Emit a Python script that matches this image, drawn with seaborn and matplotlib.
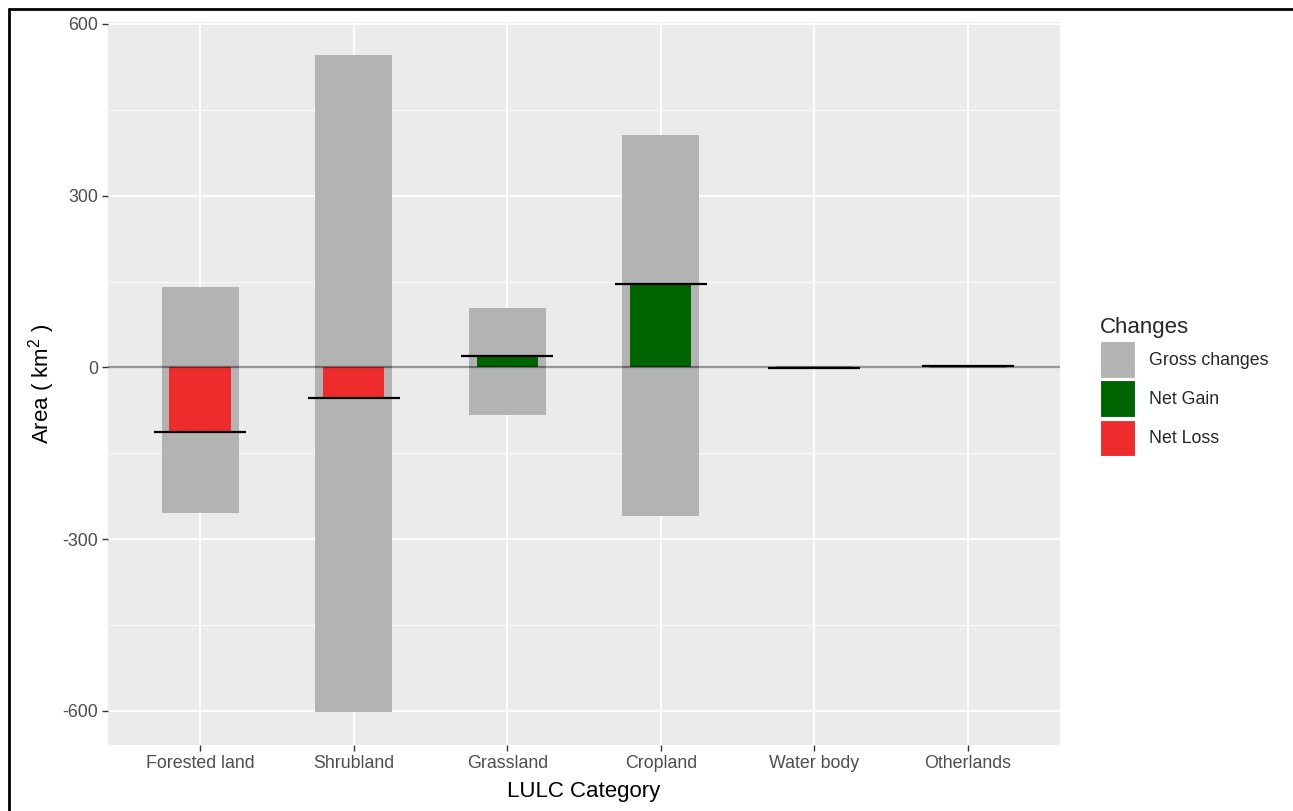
import matplotlib
matplotlib.use("Agg")
import matplotlib.pyplot as plt
import seaborn as sns
import pandas as pd
from matplotlib.patches import Patch
from matplotlib.lines import Line2D

categories = ["Forested land", "Shrubland", "Grassland", "Cropland", "Water body", "Otherlands"]
gross_gain = [140, 546, 103, 406, 2, 4]
gross_loss = [-255, -602, -83, -260, -2, -1]
net_change = [-113, -54, 20, 146, -1, 3]
y_ticks = [-600, -300, 0, 300, 600]
legend_labels = ["Gross changes", "Net Gain", "Net Loss"]
colors = {"Gross changes": "#B3B3B3", "Net Gain": "#006400", "Net Loss": "#EE2C2C"}

sns.set_theme(style="darkgrid")
plt.rcParams["font.family"] = ["Liberation Sans", "DejaVu Sans"]
plt.rcParams["mathtext.fontset"] = "custom"
plt.rcParams["mathtext.rm"] = "Liberation Sans"
plt.rcParams["mathtext.it"] = "Liberation Sans"

fig = plt.figure(figsize=(12.93, 8.11), dpi=100)
ax = fig.add_axes([108/1293, 1-745/811, (1060-108)/1293, (745-22)/811])
ax.set_facecolor("#EBEBEB")

df_gain = pd.DataFrame({"cat": categories, "val": gross_gain})
df_loss = pd.DataFrame({"cat": categories, "val": gross_loss})
df_net = pd.DataFrame({"cat": categories, "val": net_change,
                       "type": ["Net Gain" if v >= 0 else "Net Loss" for v in net_change]})

sns.barplot(data=df_gain, x="cat", y="val", color=colors["Gross changes"], saturation=1,
            width=0.5, ax=ax, errorbar=None, zorder=2)
sns.barplot(data=df_loss, x="cat", y="val", color=colors["Gross changes"], saturation=1,
            width=0.5, ax=ax, errorbar=None, zorder=2)
sns.barplot(data=df_net, x="cat", y="val", hue="type", palette=colors, saturation=1,
            width=0.4, dodge=False, ax=ax, errorbar=None, legend=False, zorder=3)

for b in ax.patches:
    b.set_edgecolor("none")
    b.set_linewidth(0)

xs = list(range(len(categories)))
ax.hlines(net_change, [x - 0.3 for x in xs], [x + 0.3 for x in xs], color="black",
          linewidth=1.6, zorder=4)
ax.axhline(0, color="black", alpha=0.4, linewidth=1.6, zorder=5)

ax.set_xlim(-0.6, 5.6)
ax.set_ylim(-659.4, 603.4)
ax.set_yticks(y_ticks)
ax.set_yticklabels([str(t) for t in y_ticks])
ax.set_yticks([-450, -150, 150, 450], minor=True)
ax.grid(which="major", color="white", linewidth=1.3)
ax.grid(which="minor", axis="y", color="white", linewidth=0.6)
ax.set_axisbelow(True)
for s in ax.spines.values():
    s.set_visible(False)

ax.tick_params(axis="both", which="major", length=4, width=1, color="#333333",
               labelcolor="#4D4D4D", labelsize=12.8, pad=3, bottom=True, left=True)
ax.tick_params(axis="both", which="minor", length=0)
ax.set_xlabel("LULC Category", fontsize=16, color="black", labelpad=7)
ax.set_ylabel("Area ( km$^{2}$ )", fontsize=16, color="black", labelpad=4)

handles = [Patch(facecolor=colors[l], edgecolor="white", linewidth=0.8) for l in legend_labels]
leg = fig.legend(handles, legend_labels, title="Changes", loc="upper left",
                 bbox_to_anchor=(1086/1293, 1-303/811), frameon=False,
                 fontsize=12.8, title_fontsize=16, handlelength=1.95, handleheight=2.8,
                 labelspacing=0.15, handletextpad=0.8, alignment="left", borderpad=0.3)

# figure border (top and left visible; right and bottom are cut off in the reference)
fig.add_artist(Line2D([8.5/1293, 8.5/1293], [0, 1-9/811], transform=fig.transFigure,
                      color="black", linewidth=2))
fig.add_artist(Line2D([8.5/1293, 1], [1-9/811, 1-9/811], transform=fig.transFigure,
                      color="black", linewidth=2))

fig.savefig("out.png", dpi=100)
